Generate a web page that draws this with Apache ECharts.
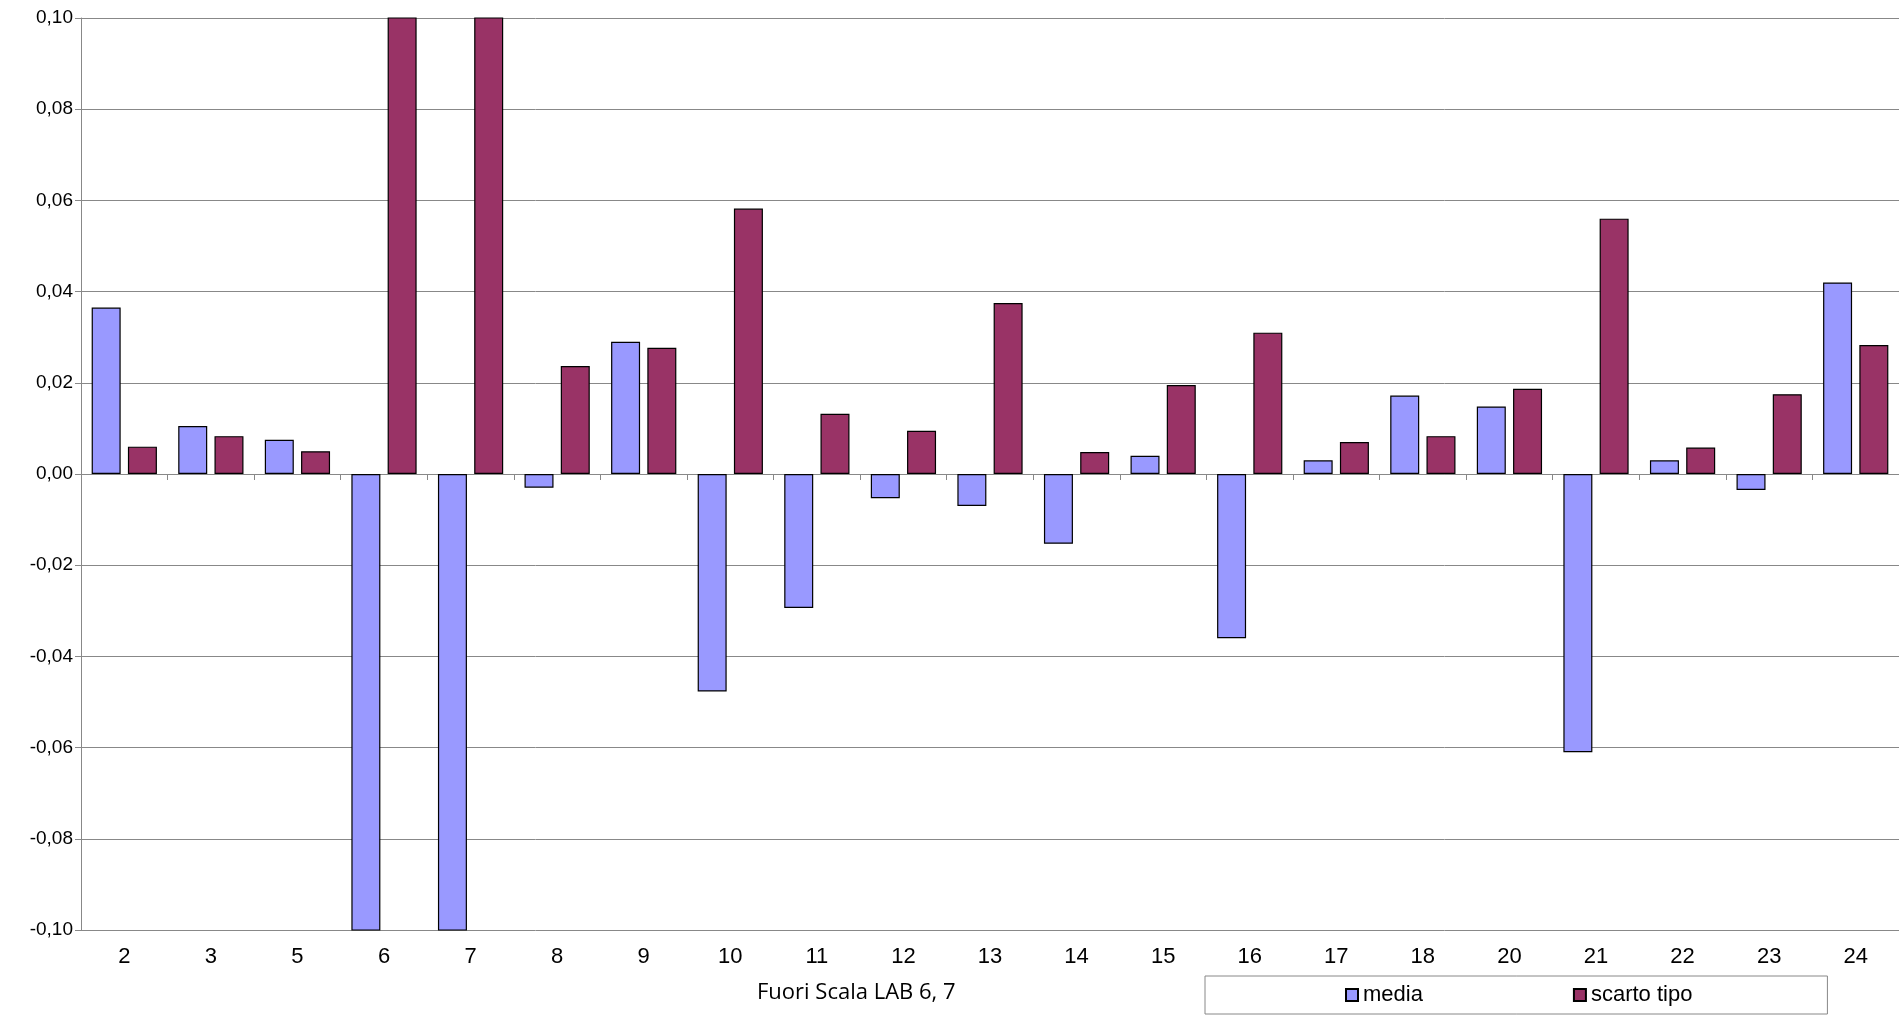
<!DOCTYPE html>
<html><head><meta charset="utf-8">
<script src="https://cdn.jsdelivr.net/npm/echarts@6/dist/echarts.min.js"></script>
<style>html,body{margin:0;padding:0;background:#fff}#c{width:1899px;height:1015px}</style>
</head><body><div id="c"></div>
<script>
const categories = ['2','3','5','6','7','8','9','10','11','12','13','14','15','16','17','18','20','21','22','23','24'];
const media = [0.0365,0.0105,0.0075,-0.15,-0.15,-0.003,0.029,-0.0477,-0.0294,-0.0053,-0.007,-0.0153,0.004,-0.036,0.003,0.0172,0.0148,-0.061,0.003,-0.0035,0.042];
const scartoTipo = [0.006,0.0083,0.005,0.15,0.15,0.0237,0.0277,0.0582,0.0132,0.0095,0.0375,0.0048,0.0195,0.031,0.007,0.0083,0.0187,0.056,0.0058,0.0175,0.0283];
const axisTitle = 'Fuori Scala LAB 6, 7';
const chart = echarts.init(document.getElementById('c'));
chart.setOption({
  animation:false,
  grid:{left:81,right:0,top:18,bottom:85},
  graphic:[{type:'text',left:757,top:982,style:{text:axisTitle,fontFamily:'Open Sans',fontSize:22,fill:'#000'}}],
  legend:{left:1205,top:976,width:620,itemGap:150,itemWidth:12,itemHeight:12,
    textStyle:{fontFamily:'Liberation Sans',fontSize:22,color:'#000'},
    borderColor:'#888',borderWidth:1,padding:[8,135,8,140],
    data:[{name:'media',icon:'rect'},{name:'scarto tipo',icon:'rect'}]},
  xAxis:{type:'category',data:categories,
    axisLine:{lineStyle:{color:'#888'}},axisTick:{show:true,length:6,lineStyle:{color:'#888'}},
    axisLabel:{fontFamily:'Liberation Sans',fontSize:22,color:'#000',margin:16}},
  yAxis:{type:'value',min:-0.1,max:0.1,interval:0.02,
    axisLine:{show:true,lineStyle:{color:'#888'}},axisTick:{show:true,length:6,lineStyle:{color:'#888'}},
    splitLine:{lineStyle:{color:'#888'}},
    axisLabel:{fontFamily:'Liberation Sans',fontSize:19,color:'#000',
      formatter:v=>v.toFixed(2).replace('.',',')}},
  series:[
    {name:'media',type:'bar',data:media,barWidth:29,barGap:'25%',clip:true,
     itemStyle:{color:'#9999ff',borderColor:'#000',borderWidth:1.2}},
    {name:'scarto tipo',type:'bar',data:scartoTipo,barWidth:29,clip:true,
     itemStyle:{color:'#993366',borderColor:'#000',borderWidth:1.2}}
  ]
});
</script></body></html>
